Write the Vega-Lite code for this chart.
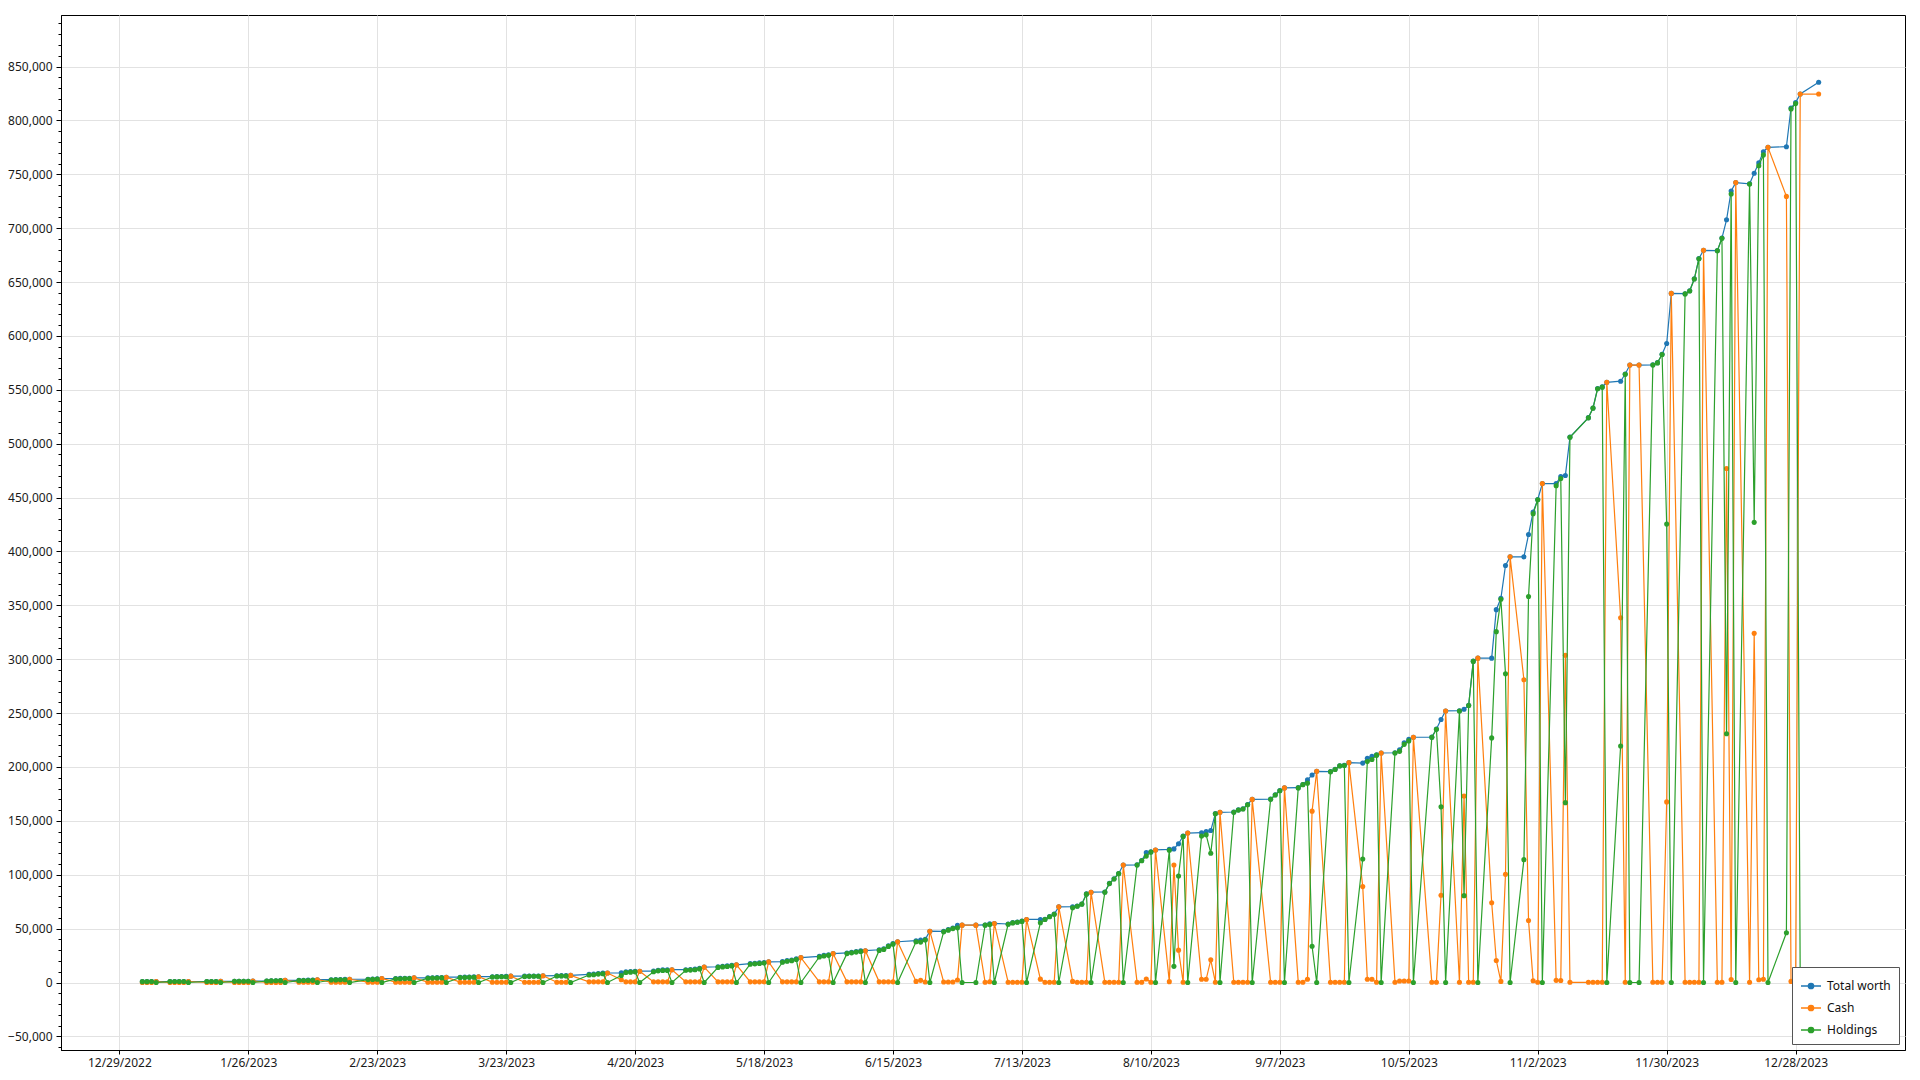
{
"$schema": "https://vega.github.io/schema/vega-lite/v6.json",
"width": 1844, "height": 1035,
"autosize": {"type": "none"},
"padding": {"left": 61, "top": 15, "right": 15, "bottom": 30},
"background": "white",
"config": {"view": {"stroke": "#000000", "strokeWidth": 1}},
"data": {"values": [
{"d":"2023-01-03","Total worth":800,"Cash":0,"Holdings":800},
{"d":"2023-01-04","Total worth":800,"Cash":0,"Holdings":800},
{"d":"2023-01-05","Total worth":820,"Cash":0,"Holdings":820},
{"d":"2023-01-06","Total worth":850,"Cash":850,"Holdings":0},
{"d":"2023-01-09","Total worth":850,"Cash":0,"Holdings":850},
{"d":"2023-01-10","Total worth":870,"Cash":0,"Holdings":870},
{"d":"2023-01-11","Total worth":880,"Cash":0,"Holdings":880},
{"d":"2023-01-12","Total worth":900,"Cash":0,"Holdings":900},
{"d":"2023-01-13","Total worth":920,"Cash":920,"Holdings":0},
{"d":"2023-01-17","Total worth":930,"Cash":0,"Holdings":930},
{"d":"2023-01-18","Total worth":950,"Cash":0,"Holdings":950},
{"d":"2023-01-19","Total worth":970,"Cash":0,"Holdings":970},
{"d":"2023-01-20","Total worth":1000,"Cash":1000,"Holdings":0},
{"d":"2023-01-23","Total worth":1050,"Cash":0,"Holdings":1050},
{"d":"2023-01-24","Total worth":1100,"Cash":0,"Holdings":1100},
{"d":"2023-01-25","Total worth":1150,"Cash":0,"Holdings":1150},
{"d":"2023-01-26","Total worth":1200,"Cash":0,"Holdings":1200},
{"d":"2023-01-27","Total worth":1300,"Cash":1300,"Holdings":0},
{"d":"2023-01-30","Total worth":1400,"Cash":0,"Holdings":1400},
{"d":"2023-01-31","Total worth":1500,"Cash":0,"Holdings":1500},
{"d":"2023-02-01","Total worth":1600,"Cash":0,"Holdings":1600},
{"d":"2023-02-02","Total worth":1700,"Cash":0,"Holdings":1700},
{"d":"2023-02-03","Total worth":2000,"Cash":2000,"Holdings":0},
{"d":"2023-02-06","Total worth":2000,"Cash":300,"Holdings":1700},
{"d":"2023-02-07","Total worth":2100,"Cash":300,"Holdings":1800},
{"d":"2023-02-08","Total worth":2200,"Cash":300,"Holdings":1900},
{"d":"2023-02-09","Total worth":2300,"Cash":300,"Holdings":2000},
{"d":"2023-02-10","Total worth":2600,"Cash":2600,"Holdings":0},
{"d":"2023-02-13","Total worth":2600,"Cash":300,"Holdings":2300},
{"d":"2023-02-14","Total worth":2700,"Cash":300,"Holdings":2400},
{"d":"2023-02-15","Total worth":2800,"Cash":300,"Holdings":2500},
{"d":"2023-02-16","Total worth":2900,"Cash":300,"Holdings":2600},
{"d":"2023-02-17","Total worth":3000,"Cash":3000,"Holdings":0},
{"d":"2023-02-21","Total worth":3000,"Cash":300,"Holdings":2700},
{"d":"2023-02-22","Total worth":3200,"Cash":300,"Holdings":2900},
{"d":"2023-02-23","Total worth":3400,"Cash":300,"Holdings":3100},
{"d":"2023-02-24","Total worth":3700,"Cash":3700,"Holdings":0},
{"d":"2023-02-27","Total worth":3700,"Cash":300,"Holdings":3400},
{"d":"2023-02-28","Total worth":3800,"Cash":300,"Holdings":3500},
{"d":"2023-03-01","Total worth":3900,"Cash":300,"Holdings":3600},
{"d":"2023-03-02","Total worth":4000,"Cash":300,"Holdings":3700},
{"d":"2023-03-03","Total worth":4300,"Cash":4300,"Holdings":0},
{"d":"2023-03-06","Total worth":4300,"Cash":300,"Holdings":4000},
{"d":"2023-03-07","Total worth":4400,"Cash":300,"Holdings":4100},
{"d":"2023-03-08","Total worth":4500,"Cash":300,"Holdings":4200},
{"d":"2023-03-09","Total worth":4600,"Cash":300,"Holdings":4300},
{"d":"2023-03-10","Total worth":4900,"Cash":4900,"Holdings":0},
{"d":"2023-03-13","Total worth":4900,"Cash":300,"Holdings":4600},
{"d":"2023-03-14","Total worth":5000,"Cash":300,"Holdings":4700},
{"d":"2023-03-15","Total worth":5100,"Cash":300,"Holdings":4800},
{"d":"2023-03-16","Total worth":5200,"Cash":300,"Holdings":4900},
{"d":"2023-03-17","Total worth":5400,"Cash":5400,"Holdings":0},
{"d":"2023-03-20","Total worth":5400,"Cash":300,"Holdings":5100},
{"d":"2023-03-21","Total worth":5500,"Cash":300,"Holdings":5200},
{"d":"2023-03-22","Total worth":5600,"Cash":300,"Holdings":5300},
{"d":"2023-03-23","Total worth":5700,"Cash":300,"Holdings":5400},
{"d":"2023-03-24","Total worth":5900,"Cash":5900,"Holdings":0},
{"d":"2023-03-27","Total worth":5900,"Cash":300,"Holdings":5600},
{"d":"2023-03-28","Total worth":6000,"Cash":300,"Holdings":5700},
{"d":"2023-03-29","Total worth":6050,"Cash":300,"Holdings":5750},
{"d":"2023-03-30","Total worth":6100,"Cash":300,"Holdings":5800},
{"d":"2023-03-31","Total worth":6200,"Cash":6200,"Holdings":0},
{"d":"2023-04-03","Total worth":6300,"Cash":300,"Holdings":6000},
{"d":"2023-04-04","Total worth":6350,"Cash":300,"Holdings":6050},
{"d":"2023-04-05","Total worth":6400,"Cash":300,"Holdings":6100},
{"d":"2023-04-06","Total worth":6600,"Cash":6600,"Holdings":0},
{"d":"2023-04-10","Total worth":7500,"Cash":600,"Holdings":6900},
{"d":"2023-04-11","Total worth":7800,"Cash":600,"Holdings":7200},
{"d":"2023-04-12","Total worth":8400,"Cash":600,"Holdings":7800},
{"d":"2023-04-13","Total worth":8700,"Cash":600,"Holdings":8100},
{"d":"2023-04-14","Total worth":8800,"Cash":8800,"Holdings":0},
{"d":"2023-04-17","Total worth":9000,"Cash":2500,"Holdings":6500},
{"d":"2023-04-18","Total worth":9900,"Cash":600,"Holdings":9300},
{"d":"2023-04-19","Total worth":10200,"Cash":600,"Holdings":9600},
{"d":"2023-04-20","Total worth":10500,"Cash":600,"Holdings":9900},
{"d":"2023-04-21","Total worth":10500,"Cash":10500,"Holdings":0},
{"d":"2023-04-24","Total worth":10600,"Cash":600,"Holdings":10000},
{"d":"2023-04-25","Total worth":11400,"Cash":600,"Holdings":10800},
{"d":"2023-04-26","Total worth":11700,"Cash":600,"Holdings":11100},
{"d":"2023-04-27","Total worth":11800,"Cash":600,"Holdings":11200},
{"d":"2023-04-28","Total worth":11900,"Cash":11900,"Holdings":0},
{"d":"2023-05-01","Total worth":11900,"Cash":600,"Holdings":11300},
{"d":"2023-05-02","Total worth":12100,"Cash":600,"Holdings":11500},
{"d":"2023-05-03","Total worth":12400,"Cash":600,"Holdings":11800},
{"d":"2023-05-04","Total worth":13200,"Cash":600,"Holdings":12600},
{"d":"2023-05-05","Total worth":14300,"Cash":14300,"Holdings":0},
{"d":"2023-05-08","Total worth":14600,"Cash":600,"Holdings":14000},
{"d":"2023-05-09","Total worth":15100,"Cash":600,"Holdings":14500},
{"d":"2023-05-10","Total worth":15400,"Cash":600,"Holdings":14800},
{"d":"2023-05-11","Total worth":16000,"Cash":600,"Holdings":15400},
{"d":"2023-05-12","Total worth":16400,"Cash":16400,"Holdings":0},
{"d":"2023-05-15","Total worth":17600,"Cash":600,"Holdings":17000},
{"d":"2023-05-16","Total worth":17900,"Cash":600,"Holdings":17300},
{"d":"2023-05-17","Total worth":18200,"Cash":600,"Holdings":17600},
{"d":"2023-05-18","Total worth":18600,"Cash":600,"Holdings":18000},
{"d":"2023-05-19","Total worth":19100,"Cash":19100,"Holdings":0},
{"d":"2023-05-22","Total worth":19400,"Cash":600,"Holdings":18800},
{"d":"2023-05-23","Total worth":20300,"Cash":600,"Holdings":19700},
{"d":"2023-05-24","Total worth":20900,"Cash":600,"Holdings":20300},
{"d":"2023-05-25","Total worth":21900,"Cash":600,"Holdings":21300},
{"d":"2023-05-26","Total worth":23100,"Cash":23100,"Holdings":0},
{"d":"2023-05-30","Total worth":24300,"Cash":600,"Holdings":23700},
{"d":"2023-05-31","Total worth":25200,"Cash":600,"Holdings":24600},
{"d":"2023-06-01","Total worth":25800,"Cash":600,"Holdings":25200},
{"d":"2023-06-02","Total worth":26800,"Cash":26800,"Holdings":0},
{"d":"2023-06-05","Total worth":27400,"Cash":600,"Holdings":26800},
{"d":"2023-06-06","Total worth":28100,"Cash":600,"Holdings":27500},
{"d":"2023-06-07","Total worth":28800,"Cash":600,"Holdings":28200},
{"d":"2023-06-08","Total worth":29400,"Cash":600,"Holdings":28800},
{"d":"2023-06-09","Total worth":29500,"Cash":29500,"Holdings":0},
{"d":"2023-06-12","Total worth":30400,"Cash":600,"Holdings":29800},
{"d":"2023-06-13","Total worth":31300,"Cash":600,"Holdings":30700},
{"d":"2023-06-14","Total worth":34100,"Cash":600,"Holdings":33500},
{"d":"2023-06-15","Total worth":36200,"Cash":600,"Holdings":35600},
{"d":"2023-06-16","Total worth":37800,"Cash":37800,"Holdings":0},
{"d":"2023-06-20","Total worth":38800,"Cash":1000,"Holdings":37800},
{"d":"2023-06-21","Total worth":39500,"Cash":2000,"Holdings":37500},
{"d":"2023-06-22","Total worth":40000,"Cash":500,"Holdings":39500},
{"d":"2023-06-23","Total worth":47600,"Cash":47600,"Holdings":0},
{"d":"2023-06-26","Total worth":47500,"Cash":500,"Holdings":47000},
{"d":"2023-06-27","Total worth":49100,"Cash":500,"Holdings":48600},
{"d":"2023-06-28","Total worth":50500,"Cash":500,"Holdings":50000},
{"d":"2023-06-29","Total worth":53000,"Cash":2300,"Holdings":50700},
{"d":"2023-06-30","Total worth":53200,"Cash":53200,"Holdings":0},
{"d":"2023-07-03","Total worth":53200,"Cash":53200,"Holdings":0},
{"d":"2023-07-05","Total worth":53400,"Cash":200,"Holdings":53200},
{"d":"2023-07-06","Total worth":54500,"Cash":700,"Holdings":53800},
{"d":"2023-07-07","Total worth":54800,"Cash":54800,"Holdings":0},
{"d":"2023-07-10","Total worth":54300,"Cash":300,"Holdings":54000},
{"d":"2023-07-11","Total worth":55600,"Cash":300,"Holdings":55300},
{"d":"2023-07-12","Total worth":56200,"Cash":300,"Holdings":55900},
{"d":"2023-07-13","Total worth":57000,"Cash":300,"Holdings":56700},
{"d":"2023-07-14","Total worth":58500,"Cash":58500,"Holdings":0},
{"d":"2023-07-17","Total worth":58500,"Cash":3100,"Holdings":55400},
{"d":"2023-07-18","Total worth":58700,"Cash":200,"Holdings":58500},
{"d":"2023-07-19","Total worth":61200,"Cash":200,"Holdings":61000},
{"d":"2023-07-20","Total worth":63600,"Cash":200,"Holdings":63400},
{"d":"2023-07-21","Total worth":70200,"Cash":70200,"Holdings":0},
{"d":"2023-07-24","Total worth":70300,"Cash":1000,"Holdings":69300},
{"d":"2023-07-25","Total worth":71000,"Cash":200,"Holdings":70800},
{"d":"2023-07-26","Total worth":72900,"Cash":200,"Holdings":72700},
{"d":"2023-07-27","Total worth":82200,"Cash":200,"Holdings":82000},
{"d":"2023-07-28","Total worth":83800,"Cash":83800,"Holdings":0},
{"d":"2023-07-31","Total worth":84000,"Cash":200,"Holdings":83800},
{"d":"2023-08-01","Total worth":92000,"Cash":200,"Holdings":91800},
{"d":"2023-08-02","Total worth":96300,"Cash":200,"Holdings":96100},
{"d":"2023-08-03","Total worth":101200,"Cash":200,"Holdings":101000},
{"d":"2023-08-04","Total worth":109000,"Cash":109000,"Holdings":0},
{"d":"2023-08-07","Total worth":109200,"Cash":200,"Holdings":109000},
{"d":"2023-08-08","Total worth":113200,"Cash":200,"Holdings":113000},
{"d":"2023-08-09","Total worth":120500,"Cash":3200,"Holdings":117300},
{"d":"2023-08-10","Total worth":121200,"Cash":200,"Holdings":121000},
{"d":"2023-08-11","Total worth":123000,"Cash":123000,"Holdings":0},
{"d":"2023-08-14","Total worth":123500,"Cash":800,"Holdings":122700},
{"d":"2023-08-15","Total worth":124000,"Cash":109000,"Holdings":15000},
{"d":"2023-08-16","Total worth":128800,"Cash":30000,"Holdings":98800},
{"d":"2023-08-17","Total worth":135800,"Cash":200,"Holdings":135600},
{"d":"2023-08-18","Total worth":138700,"Cash":138700,"Holdings":0},
{"d":"2023-08-21","Total worth":139000,"Cash":3000,"Holdings":136000},
{"d":"2023-08-22","Total worth":140000,"Cash":3000,"Holdings":137000},
{"d":"2023-08-23","Total worth":141000,"Cash":21000,"Holdings":120000},
{"d":"2023-08-24","Total worth":156800,"Cash":200,"Holdings":156600},
{"d":"2023-08-25","Total worth":157900,"Cash":157900,"Holdings":0},
{"d":"2023-08-28","Total worth":158200,"Cash":200,"Holdings":158000},
{"d":"2023-08-29","Total worth":160200,"Cash":200,"Holdings":160000},
{"d":"2023-08-30","Total worth":161200,"Cash":200,"Holdings":161000},
{"d":"2023-08-31","Total worth":165200,"Cash":200,"Holdings":165000},
{"d":"2023-09-01","Total worth":169900,"Cash":169900,"Holdings":0},
{"d":"2023-09-05","Total worth":170200,"Cash":200,"Holdings":170000},
{"d":"2023-09-06","Total worth":174200,"Cash":200,"Holdings":174000},
{"d":"2023-09-07","Total worth":178200,"Cash":200,"Holdings":178000},
{"d":"2023-09-08","Total worth":180600,"Cash":180600,"Holdings":0},
{"d":"2023-09-11","Total worth":180800,"Cash":200,"Holdings":180600},
{"d":"2023-09-12","Total worth":183800,"Cash":200,"Holdings":183600},
{"d":"2023-09-13","Total worth":188000,"Cash":3000,"Holdings":185000},
{"d":"2023-09-14","Total worth":192600,"Cash":159000,"Holdings":33600},
{"d":"2023-09-15","Total worth":196000,"Cash":196000,"Holdings":0},
{"d":"2023-09-18","Total worth":195700,"Cash":200,"Holdings":195500},
{"d":"2023-09-19","Total worth":197800,"Cash":200,"Holdings":197600},
{"d":"2023-09-20","Total worth":201200,"Cash":200,"Holdings":201000},
{"d":"2023-09-21","Total worth":201600,"Cash":200,"Holdings":201400},
{"d":"2023-09-22","Total worth":204000,"Cash":204000,"Holdings":0},
{"d":"2023-09-25","Total worth":203600,"Cash":89000,"Holdings":114600},
{"d":"2023-09-26","Total worth":208000,"Cash":3000,"Holdings":205000},
{"d":"2023-09-27","Total worth":210000,"Cash":3000,"Holdings":207000},
{"d":"2023-09-28","Total worth":211200,"Cash":200,"Holdings":211000},
{"d":"2023-09-29","Total worth":213000,"Cash":213000,"Holdings":0},
{"d":"2023-10-02","Total worth":213200,"Cash":200,"Holdings":213000},
{"d":"2023-10-03","Total worth":215900,"Cash":1400,"Holdings":214500},
{"d":"2023-10-04","Total worth":222400,"Cash":1400,"Holdings":221000},
{"d":"2023-10-05","Total worth":225600,"Cash":1400,"Holdings":224200},
{"d":"2023-10-06","Total worth":227600,"Cash":227600,"Holdings":0},
{"d":"2023-10-10","Total worth":227700,"Cash":200,"Holdings":227500},
{"d":"2023-10-11","Total worth":235200,"Cash":200,"Holdings":235000},
{"d":"2023-10-12","Total worth":244000,"Cash":81000,"Holdings":163000},
{"d":"2023-10-13","Total worth":252000,"Cash":252000,"Holdings":0},
{"d":"2023-10-16","Total worth":252200,"Cash":200,"Holdings":252000},
{"d":"2023-10-17","Total worth":253600,"Cash":173000,"Holdings":80600},
{"d":"2023-10-18","Total worth":257200,"Cash":200,"Holdings":257000},
{"d":"2023-10-19","Total worth":298200,"Cash":200,"Holdings":298000},
{"d":"2023-10-20","Total worth":301000,"Cash":301000,"Holdings":0},
{"d":"2023-10-23","Total worth":301000,"Cash":74000,"Holdings":227000},
{"d":"2023-10-24","Total worth":346000,"Cash":20400,"Holdings":325600},
{"d":"2023-10-25","Total worth":356600,"Cash":1000,"Holdings":355600},
{"d":"2023-10-26","Total worth":387000,"Cash":100500,"Holdings":286500},
{"d":"2023-10-27","Total worth":395000,"Cash":395000,"Holdings":0},
{"d":"2023-10-30","Total worth":395000,"Cash":281000,"Holdings":114000},
{"d":"2023-10-31","Total worth":415700,"Cash":57500,"Holdings":358200},
{"d":"2023-11-01","Total worth":436600,"Cash":1600,"Holdings":435000},
{"d":"2023-11-02","Total worth":448200,"Cash":200,"Holdings":448000},
{"d":"2023-11-03","Total worth":463000,"Cash":463000,"Holdings":0},
{"d":"2023-11-06","Total worth":463000,"Cash":2000,"Holdings":461000},
{"d":"2023-11-07","Total worth":469500,"Cash":1800,"Holdings":467700},
{"d":"2023-11-08","Total worth":470500,"Cash":303600,"Holdings":166900},
{"d":"2023-11-09","Total worth":506200,"Cash":200,"Holdings":506000},
{"d":"2023-11-13","Total worth":524200,"Cash":200,"Holdings":524000},
{"d":"2023-11-14","Total worth":533200,"Cash":200,"Holdings":533000},
{"d":"2023-11-15","Total worth":551200,"Cash":200,"Holdings":551000},
{"d":"2023-11-16","Total worth":552700,"Cash":200,"Holdings":552500},
{"d":"2023-11-17","Total worth":557000,"Cash":557000,"Holdings":0},
{"d":"2023-11-20","Total worth":558000,"Cash":338500,"Holdings":219500},
{"d":"2023-11-21","Total worth":564700,"Cash":200,"Holdings":564500},
{"d":"2023-11-22","Total worth":573000,"Cash":573000,"Holdings":0},
{"d":"2023-11-24","Total worth":573000,"Cash":573000,"Holdings":0},
{"d":"2023-11-27","Total worth":573200,"Cash":200,"Holdings":573000},
{"d":"2023-11-28","Total worth":575200,"Cash":200,"Holdings":575000},
{"d":"2023-11-29","Total worth":583000,"Cash":200,"Holdings":582800},
{"d":"2023-11-30","Total worth":593000,"Cash":167600,"Holdings":425400},
{"d":"2023-12-01","Total worth":639500,"Cash":639500,"Holdings":0},
{"d":"2023-12-04","Total worth":639200,"Cash":200,"Holdings":639000},
{"d":"2023-12-05","Total worth":641900,"Cash":200,"Holdings":641700},
{"d":"2023-12-06","Total worth":653000,"Cash":200,"Holdings":652800},
{"d":"2023-12-07","Total worth":671900,"Cash":200,"Holdings":671700},
{"d":"2023-12-08","Total worth":679500,"Cash":679500,"Holdings":0},
{"d":"2023-12-11","Total worth":679200,"Cash":200,"Holdings":679000},
{"d":"2023-12-12","Total worth":690800,"Cash":200,"Holdings":690600},
{"d":"2023-12-13","Total worth":707800,"Cash":477000,"Holdings":230800},
{"d":"2023-12-14","Total worth":734500,"Cash":2800,"Holdings":731700},
{"d":"2023-12-15","Total worth":742300,"Cash":742300,"Holdings":0},
{"d":"2023-12-18","Total worth":741200,"Cash":200,"Holdings":741000},
{"d":"2023-12-19","Total worth":751000,"Cash":324000,"Holdings":427000},
{"d":"2023-12-20","Total worth":760600,"Cash":2600,"Holdings":758000},
{"d":"2023-12-21","Total worth":771000,"Cash":3000,"Holdings":768000},
{"d":"2023-12-22","Total worth":775000,"Cash":775000,"Holdings":0},
{"d":"2023-12-26","Total worth":775600,"Cash":729500,"Holdings":46100},
{"d":"2023-12-27","Total worth":811600,"Cash":1000,"Holdings":810600},
{"d":"2023-12-28","Total worth":816600,"Cash":1000,"Holdings":815600},
{"d":"2023-12-29","Total worth":824500,"Cash":824500,"Holdings":0},
{"d":"2024-01-02","Total worth":835400,"Cash":824500,"Holdings":10900}
]},
"transform": [{"fold": ["Total worth", "Cash", "Holdings"], "as": ["series", "value"]}],
"encoding": {
  "x": {"field": "d", "type": "temporal",
    "scale": {"type": "utc", "domain": [{"year": 2022, "month": 12, "date": 16, "hours": 8, "utc": true}, {"year": 2024, "month": 1, "date": 20, "hours": 18, "utc": true}], "nice": false},
    "axis": {"title": null,
      "labelExpr": "utcFormat(datum.value, '%-m/%-d/%Y')",
      "values": [
        {"year": 2022, "month": 12, "date": 29, "utc": true},
        {"year": 2023, "month": 1, "date": 26, "utc": true},
        {"year": 2023, "month": 2, "date": 23, "utc": true},
        {"year": 2023, "month": 3, "date": 23, "utc": true},
        {"year": 2023, "month": 4, "date": 20, "utc": true},
        {"year": 2023, "month": 5, "date": 18, "utc": true},
        {"year": 2023, "month": 6, "date": 15, "utc": true},
        {"year": 2023, "month": 7, "date": 13, "utc": true},
        {"year": 2023, "month": 8, "date": 10, "utc": true},
        {"year": 2023, "month": 9, "date": 7, "utc": true},
        {"year": 2023, "month": 10, "date": 5, "utc": true},
        {"year": 2023, "month": 11, "date": 2, "utc": true},
        {"year": 2023, "month": 11, "date": 30, "utc": true},
        {"year": 2023, "month": 12, "date": 28, "utc": true}],
      "grid": true, "gridColor": "#e2e2e2", "gridWidth": 1,
      "domainColor": "#000000", "tickColor": "#000000", "tickSize": 4,
      "labelFont": "Noto Sans", "labelFontSize": 12, "labelColor": "#1a1a1a", "labelPadding": 3,
      "labelOverlap": false, "labelFlush": false}},
  "y": {"field": "value", "type": "quantitative",
    "scale": {"domain": [-62640, 897840], "nice": false, "zero": false},
    "axis": {"title": null, "format": ",d",
      "values": [-60000,-50000,-40000,-30000,-20000,-10000,0,10000,20000,30000,40000,50000,60000,70000,80000,90000,100000,110000,120000,130000,140000,150000,160000,170000,180000,190000,200000,210000,220000,230000,240000,250000,260000,270000,280000,290000,300000,310000,320000,330000,340000,350000,360000,370000,380000,390000,400000,410000,420000,430000,440000,450000,460000,470000,480000,490000,500000,510000,520000,530000,540000,550000,560000,570000,580000,590000,600000,610000,620000,630000,640000,650000,660000,670000,680000,690000,700000,710000,720000,730000,740000,750000,760000,770000,780000,790000,800000,810000,820000,830000,840000,850000,860000,870000,880000,890000],
      "labelExpr": "datum.value % 50000 === 0 ? datum.label : ''",
      "grid": true, "gridColor": "#e2e2e2", "gridWidth": 1,
      "gridOpacity": {"condition": {"test": "datum.value % 50000 === 0", "value": 1}, "value": 0},
      "tickSize": {"condition": {"test": "datum.value % 50000 === 0", "value": 5}, "value": 3},
      "domainColor": "#000000", "tickColor": "#000000",
      "labelFont": "Noto Sans", "labelFontSize": 12, "labelColor": "#1a1a1a", "labelPadding": 4,
      "labelOverlap": false}},
  "color": {"field": "series", "type": "nominal",
    "scale": {"domain": ["Total worth", "Cash", "Holdings"], "range": ["#1f77b4", "#ff7f0e", "#2ca02c"]},
    "legend": {"title": null, "orient": "bottom-right", "offset": 6, "padding": 8,
      "strokeColor": "#555555", "fillColor": "#ffffff",
      "labelFont": "Noto Sans", "labelFontSize": 12, "labelColor": "#111111", "labelOffset": 5,
      "symbolType": "M-1,0H1M0.27,0A0.27,0.27,0,1,1,-0.27,0A0.27,0.27,0,1,1,0.27,0Z",
      "symbolSize": 400, "symbolStrokeWidth": 1.3, "rowPadding": 5,
      "encode": {"symbols": {"update": {"fill": {"scale": "color", "field": "value"}, "stroke": {"scale": "color", "field": "value"}}}}}}
},
"layer": [
  {"transform": [{"filter": "datum.series === 'Total worth'"}],
   "mark": {"type": "line", "strokeWidth": 1.2, "point": {"filled": true, "size": 26}}},
  {"transform": [{"filter": "datum.series === 'Cash'"}],
   "mark": {"type": "line", "strokeWidth": 1.2, "point": {"filled": true, "size": 26}}},
  {"transform": [{"filter": "datum.series === 'Holdings'"}],
   "mark": {"type": "line", "strokeWidth": 1.2, "point": {"filled": true, "size": 26}}}
]
}
